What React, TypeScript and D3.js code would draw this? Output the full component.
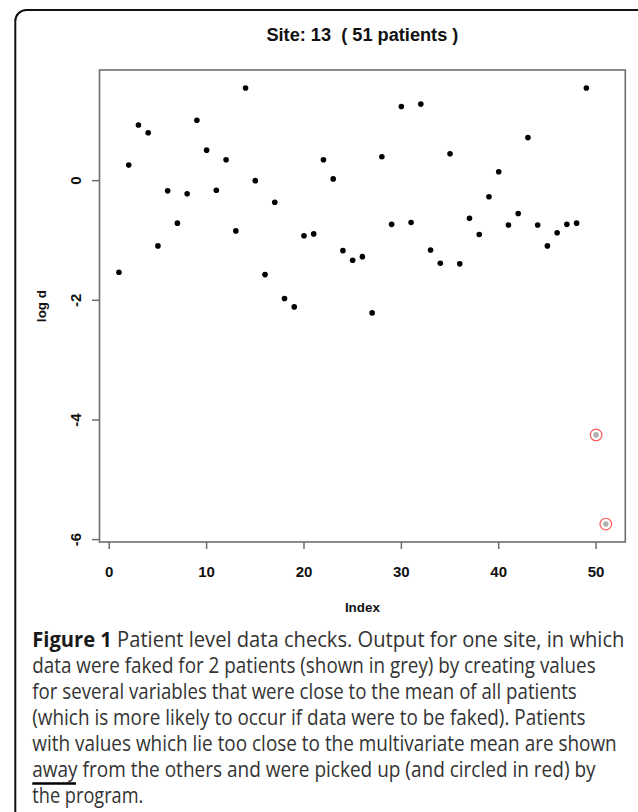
import React, { useLayoutEffect, useRef, useState } from "react";
import * as d3 from "d3";

const indices: number[] = d3.range(1, 52);
const logD: number[] = [
  -1.53, 0.26, 0.93, 0.8, -1.09, -0.17, -0.71, -0.22, 1.01, 0.51,
  -0.16, 0.35, -0.84, 1.55, 0.0, -1.57, -0.36, -1.97, -2.11, -0.92,
  -0.89, 0.35, 0.03, -1.17, -1.33, -1.27, -2.21, 0.4, -0.73, 1.24,
  -0.7, 1.28, -1.16, -1.38, 0.45, -1.39, -0.63, -0.9, -0.27, 0.15,
  -0.74, -0.55, 0.72, -0.74, -1.09, -0.87, -0.73, -0.71, 1.55, -4.25,
  -5.74,
];
const flagged: number[] = [50, 51];
const xTicks: number[] = [0, 10, 20, 30, 40, 50];
const yTicks: number[] = [0, -2, -4, -6];

const titleText = "Site: 13  ( 51 patients )";
const xLabel = "Index";
const yLabel = "log d";

const captionLines: string[] = [
  "Patient level data checks. Output for one site, in which",
  "data were faked for 2 patients (shown in grey) by creating values",
  "for several variables that were close to the mean of all patients",
  "(which is more likely to occur if data were to be faked). Patients",
  "with values which lie too close to the multivariate mean are shown",
  "away from the others and were picked up (and circled in red) by",
  "the program.",
];
const captionWidths = [592, 563, 544, 553, 584, 563, 111];

export default function App() {
  const box = { left: 99.5, right: 625.3, top: 70, bottom: 542 };
  const x = d3.scaleLinear().domain([-1, 53]).range([box.left, box.right]);
  const y = d3.scaleLinear().domain([-6.04, 1.85]).range([box.bottom, box.top]);
  const axisColor = "#6e6e6e";
  const tickFont = "'Liberation Sans', Arial, sans-serif";
  const pts = indices.map((i, k) => ({ i, v: logD[k], flag: flagged.includes(i) }));

  const capRefs = useRef<(SVGTextElement | null)[]>([]);
  const [scales, setScales] = useState<number[]>(captionLines.map(() => 0.85));
  useLayoutEffect(() => {
    const s = captionLines.map((_, k) => {
      const el = capRefs.current[k];
      if (!el) return 0.85;
      const len = el.getComputedTextLength();
      return len > 0 ? captionWidths[k] / len : 0.85;
    });
    setScales(s);
  }, []);

  return (
    <svg
      width={638}
      height={812}
      style={{ position: "absolute", left: 0, top: 0, background: "#fff" }}
    >
      <rect x={0} y={0} width={638} height={812} fill="#fff" />
      {/* outer frame */}
      <rect x={15.3} y={10} width={640} height={830} rx={11} fill="none" stroke="#111" strokeWidth={2} />

      {/* title */}
      <text
        x={(box.left + box.right) / 2}
        y={41}
        textAnchor="middle"
        fontFamily={tickFont}
        fontWeight="bold"
        fontSize={18}
        textLength={192}
        lengthAdjust="spacingAndGlyphs"
        fill="#111"
        style={{ whiteSpace: "pre" }}
      >
        {titleText}
      </text>

      {/* plot box */}
      <rect
        x={box.left}
        y={box.top}
        width={box.right - box.left}
        height={box.bottom - box.top}
        fill="none"
        stroke={axisColor}
        strokeWidth={1.6}
      />

      {/* x ticks */}
      {xTicks.map((t) => (
        <g key={"xt" + t}>
          <line x1={x(t)} x2={x(t)} y1={box.bottom} y2={box.bottom + 7} stroke={axisColor} strokeWidth={1.5} />
          <text
            x={x(t)}
            y={577}
            textAnchor="middle"
            fontFamily={tickFont}
            fontWeight="bold"
            fontSize={15}
            fill="#111"
          >
            {t}
          </text>
        </g>
      ))}

      {/* y ticks */}
      {yTicks.map((t) => (
        <g key={"yt" + t}>
          <line x1={box.left - 7.5} x2={box.left} y1={y(t)} y2={y(t)} stroke={axisColor} strokeWidth={1.5} />
          <text
            transform={`translate(81,${y(t)}) rotate(-90)`}
            textAnchor="middle"
            fontFamily={tickFont}
            fontWeight="bold"
            fontSize={15}
            fill="#111"
          >
            {t}
          </text>
        </g>
      ))}

      {/* axis labels */}
      <text
        x={(box.left + box.right) / 2}
        y={612}
        textAnchor="middle"
        fontFamily={tickFont}
        fontWeight="bold"
        fontSize={13.5}
        textLength={35}
        lengthAdjust="spacingAndGlyphs"
        fill="#111"
      >
        {xLabel}
      </text>
      <text
        transform={`translate(46,${(box.top + box.bottom) / 2}) rotate(-90)`}
        textAnchor="middle"
        fontFamily={tickFont}
        fontWeight="bold"
        fontSize={13.5}
        fill="#111"
      >
        {yLabel}
      </text>

      {/* points */}
      {pts.map((p) =>
        p.flag ? (
          <g key={"p" + p.i}>
            <circle cx={x(p.i)} cy={y(p.v)} r={2.8} fill="#b0b0b0" />
            <circle cx={x(p.i)} cy={y(p.v)} r={5.8} fill="none" stroke="#ff5a5a" strokeWidth={1.2} />
          </g>
        ) : (
          <circle key={"p" + p.i} cx={x(p.i)} cy={y(p.v)} r={2.8} fill="#000" />
        )
      )}

      {/* caption */}
      <g fontFamily="'Open Sans', 'Noto Sans', sans-serif" fontSize={21} fill="#333">
        {captionLines.map((line, k) => (
          <text
            key={"c" + k}
            ref={(el) => {
              capRefs.current[k] = el;
            }}
            transform={`translate(32.3,${647 + k * 26}) scale(${scales[k]},1)`}
            x={0}
            y={0}
          >
            {k === 0 ? (
              <>
                <tspan fontWeight="bold" fill="#1a1a1a">Figure 1</tspan>
                <tspan> {line}</tspan>
              </>
            ) : (
              line
            )}
          </text>
        ))}
        <line x1={32.3} x2={76} y1={783.5} y2={783.5} stroke="#000" strokeWidth={2.6} />
      </g>
    </svg>
  );
}
